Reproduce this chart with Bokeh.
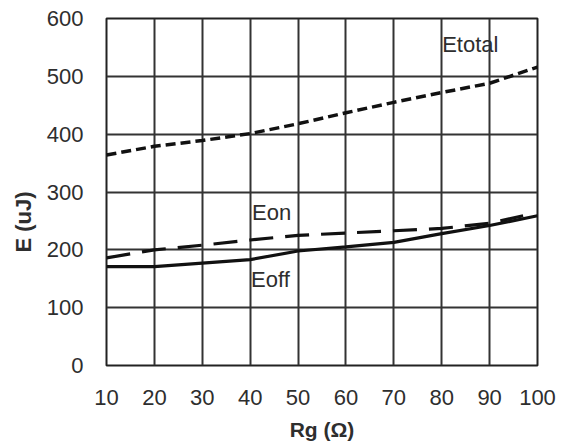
from bokeh.plotting import figure
from bokeh.models import FixedTicker, Range1d, ColumnDataSource, Title
from bokeh.core.properties import value
from bokeh.embed import file_html
from bokeh.resources import INLINE

# ---- data ----
rg = [10, 20, 30, 40, 50, 60, 70, 80, 90, 100]
etotal = [364, 379, 389, 401, 418, 437, 455, 472, 488, 516]
eon_x = [10, 20, 30, 40, 50, 60, 70, 80, 90, 97]
eon = [186, 200, 208, 217, 225, 229, 233, 237, 246, 259]
eoff = [171, 171, 177, 183, 198, 205, 213, 228, 242, 259]

x_ticks = [10, 20, 30, 40, 50, 60, 70, 80, 90, 100]
y_ticks = [0, 100, 200, 300, 400, 500, 600]

label_text = ["Etotal", "Eon", "Eoff"]
label_x = [80.1, 40.4, 40.2]
label_y = [555, 264, 149]

x_title = "Rg (Ω)"
y_title = "E (uJ)"

FONT = "Liberation Sans"
INK = "#111111"
TXT = "#2e2e2e"

p = figure(width=565, height=446, output_backend="svg", toolbar_location=None,
           x_range=Range1d(10, 100), y_range=Range1d(0, 600),
           min_border_left=106, min_border_right=28, min_border_top=18,
           min_border_bottom=81)
p.background_fill_color = "white"
p.border_fill_color = "white"
p.outline_line_color = "#222222"
p.outline_line_width = 2

for ax in (p.xaxis[0], p.yaxis[0]):
    ax.axis_line_color = None
    ax.major_tick_line_color = None
    ax.minor_tick_line_color = None
    ax.major_label_text_font = FONT
    ax.major_label_text_font_size = "22px"
    ax.major_label_text_color = TXT
    ax.axis_label_text_font = FONT
    ax.axis_label_text_font_size = "21px"
    ax.axis_label_text_font_style = "bold"
    ax.axis_label_text_color = TXT

p.xaxis.ticker = FixedTicker(ticks=x_ticks)
p.yaxis.ticker = FixedTicker(ticks=y_ticks)
p.xaxis.major_label_standoff = 18
p.yaxis.major_label_standoff = 17
p.xaxis.axis_label = x_title
p.xaxis.axis_label_standoff = 10

p.xgrid.ticker = FixedTicker(ticks=x_ticks)
p.ygrid.ticker = FixedTicker(ticks=y_ticks)
for g in (p.xgrid[0], p.ygrid[0]):
    g.grid_line_color = "#333333"
    g.grid_line_width = 2
    g.grid_line_alpha = 1.0

p.line(rg, etotal, line_color=INK, line_width=3.5, line_dash="10 5")
p.line(eon_x, eon, line_color=INK, line_width=3.2, line_dash="24 12")
p.line(rg, eoff, line_color=INK, line_width=3.2)

src = ColumnDataSource(dict(x=label_x, y=label_y, t=label_text))
p.text(x="x", y="y", text="t", source=src, text_font=value(FONT),
       text_font_size="22px", text_color=TXT, text_align="left",
       text_baseline="middle")

# y-axis title, placed off-centre like the reference
p.add_layout(Title(text=y_title, align="left", offset=113, standoff=15,
                   text_font=FONT, text_font_size="22px",
                   text_font_style="bold", text_color=TXT), "left")

open("out.html", "w").write(file_html(p, INLINE))
